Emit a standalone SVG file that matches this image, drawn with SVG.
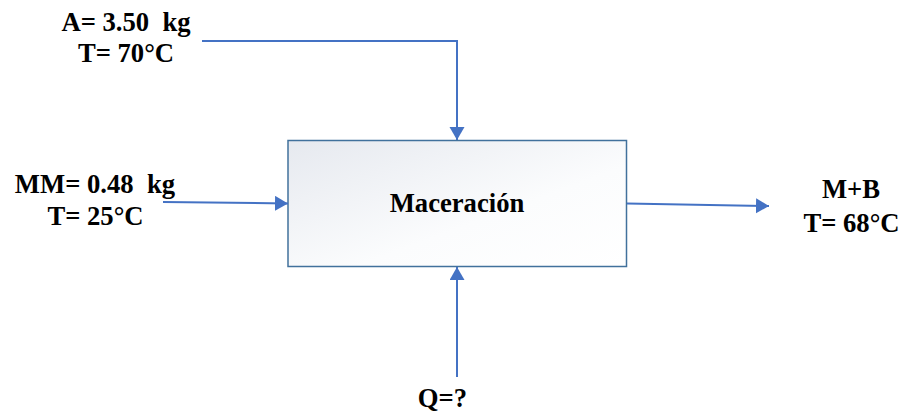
<svg xmlns="http://www.w3.org/2000/svg" width="903" height="412" viewBox="0 0 903 412">
<style>
.c{stroke:#4472c4;stroke-width:2;fill:none}
</style>
<defs>
<linearGradient id="g" x1="0" y1="0" x2="1" y2="1">
<stop offset="0" stop-color="#e6e9ef"/>
<stop offset="0.6" stop-color="#fbfcfd"/>
<stop offset="1" stop-color="#ffffff"/>
</linearGradient>
<marker id="ah" markerWidth="7" markerHeight="8" refX="6.5" refY="3.75" orient="auto" markerUnits="strokeWidth">
<path d="M0,0 L6.5,3.75 L0,7.5 Z" fill="#4472c4"/>
</marker>
</defs>
<rect width="903" height="412" fill="#fff"/>
<g font-family="'Liberation Serif', 'Times New Roman', serif" font-weight="bold" font-size="26.67" fill="#000" text-anchor="middle">
<g id="box">
<rect x="288" y="140.5" width="338.5" height="126" fill="url(#g)" stroke="#41719c" stroke-width="1.5"/>
<text x="457" y="212">Maceración</text>
</g>
<g id="in-A">
<text x="126" y="31" xml:space="preserve">A= 3.50  kg</text>
<text x="126" y="62">T= 70°C</text>
</g>
<g id="in-MM">
<text x="95" y="193" xml:space="preserve">MM= 0.48  kg</text>
<text x="95.5" y="225">T= 25°C</text>
</g>
<g id="out">
<text x="851" y="198">M+B</text>
<text x="851.5" y="232">T= 68°C</text>
</g>
<g id="in-Q">
<text x="442.5" y="407">Q=?</text>
</g>
</g>
<g id="connectors">
<polyline class="c" points="202,41 457,41 457,140" marker-end="url(#ah)"/>
<line class="c" x1="163" y1="202" x2="288" y2="203.5" marker-end="url(#ah)"/>
<line class="c" x1="627" y1="203.5" x2="769" y2="206" marker-end="url(#ah)"/>
<line class="c" x1="457" y1="377" x2="457" y2="267" marker-end="url(#ah)"/>
</g>
</svg>
